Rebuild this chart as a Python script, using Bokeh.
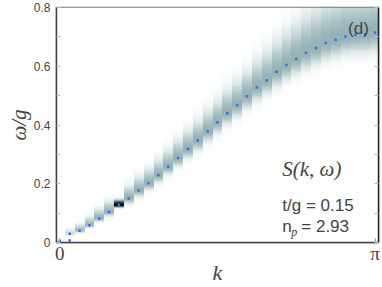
import numpy as np
from bokeh.plotting import figure
from bokeh.models import Range1d, FixedTicker, LinearAxis, LinearColorMapper, Label
from bokeh.embed import file_html
from bokeh.resources import INLINE

# ---------------- data ----------------
n_k = 33                                  # momentum columns, k_j = j*pi/32
k_index = list(range(n_k))
peak_omega = [0.005, 0.030, 0.040, 0.059, 0.082, 0.104, 0.128, 0.150, 0.177,
              0.202, 0.229, 0.258, 0.288, 0.318, 0.347, 0.379, 0.409, 0.440,
              0.468, 0.498, 0.528, 0.552, 0.581, 0.604, 0.625, 0.646, 0.662,
              0.679, 0.690, 0.701, 0.707, 0.709, 0.715]
extra_dot_index = [1]
extra_dot_omega = [0.007]
sigma_below = [0.004, 0.005, 0.005, 0.006, 0.008, 0.010, 0.006, 0.013, 0.015,
               0.016, 0.018, 0.019, 0.021, 0.022, 0.024, 0.025, 0.026, 0.027,
               0.029, 0.030, 0.032, 0.033, 0.035, 0.036, 0.038, 0.039, 0.040,
               0.041, 0.042, 0.043, 0.044, 0.045, 0.045]
sigma_above = [0.008, 0.012, 0.016, 0.020, 0.023, 0.026, 0.012, 0.030, 0.033,
               0.035, 0.038, 0.040, 0.043, 0.045, 0.048, 0.050, 0.052, 0.055,
               0.058, 0.060, 0.065, 0.070, 0.075, 0.080, 0.085, 0.090, 0.095,
               0.100, 0.100, 0.100, 0.100, 0.100, 0.100]
amplitude = [0.10, 0.25, 0.40, 0.42, 0.44, 0.45, 1.00, 0.45, 0.45, 0.45, 0.45,
             0.45, 0.45, 0.45, 0.45, 0.45, 0.45, 0.45, 0.45, 0.45, 0.45, 0.45,
             0.45, 0.45, 0.45, 0.45, 0.45, 0.45, 0.45, 0.45, 0.45, 0.45, 0.45]
y_major = [0, 0.2, 0.4, 0.6, 0.8]
y_minor = [0.1, 0.3, 0.5, 0.7]
x_major = [0, np.pi]
x_labels = {0: "0", np.pi: "π"}

# ---------------- spectral image ----------------
n_w = 400
w_grid = (np.arange(n_w) + 0.5) * 0.8 / n_w
img = np.zeros((n_w, n_k))
for j in range(n_k):
    c = peak_omega[j]
    sig = np.where(w_grid < c, sigma_below[j], sigma_above[j])
    img[:, j] = amplitude[j] * np.exp(-0.5 * ((w_grid - c) / sig) ** 2)

stops = [(0.0, (255, 255, 255)), (0.06, (249, 251, 251)), (0.2, (220, 231, 232)),
         (0.45, (150, 178, 182)), (0.7, (80, 104, 108)), (0.85, (36, 48, 50)),
         (1.0, (0, 0, 0))]
palette = []
for i in range(256):
    t = i / 255
    for (t0, c0), (t1, c1) in zip(stops[:-1], stops[1:]):
        if t0 <= t <= t1:
            f = (t - t0) / (t1 - t0)
            rgb = [int(round(a + (b - a) * f)) for a, b in zip(c0, c1)]
            palette.append("#%02x%02x%02x" % tuple(rgb))
            break
mapper = LinearColorMapper(palette=palette, low=0, high=1)

# ---------------- figure ----------------
p = figure(width=380, height=287, x_range=Range1d(-0.033, 3.176),
           y_range=Range1d(0, 0.8), output_backend="svg", toolbar_location=None,
           min_border_left=56, min_border_right=2, min_border_top=7,
           min_border_bottom=43)
p.grid.visible = False
p.outline_line_color = "#777777"
p.outline_line_width = 1.5

dk = np.pi / 32
p.image(image=[img], x=-dk / 2, y=0, dw=n_k * dk, dh=0.8, color_mapper=mapper)

dot_k = [j * dk for j in k_index] + [j * dk for j in extra_dot_index]
dot_w = peak_omega + extra_dot_omega
p.scatter(x=dot_k, y=dot_w, marker="square", size=2.5, fill_color="#2f6ff0",
          line_color=None)

xa = p.xaxis[0]
xa.ticker = FixedTicker(ticks=x_major)
xa.major_label_overrides = x_labels
xa.axis_label = "k"
xa.axis_label_text_font = "Liberation Serif"
xa.axis_label_text_font_style = "italic"
xa.axis_label_text_font_size = "22px"
xa.axis_label_standoff = -7
xa.major_label_text_font = "Liberation Serif"
xa.major_label_text_font_size = "19px"
xa.major_label_standoff = 0
xa.major_tick_in = 4
xa.major_tick_out = 0
xa.minor_tick_in = 0
xa.minor_tick_out = 0
xa.axis_line_color = "#444444"
xa.axis_line_width = 1.5
xa.major_tick_line_color = "#999999"

ya = p.yaxis[0]
ya.ticker = FixedTicker(ticks=y_major, minor_ticks=y_minor)
ya.major_label_overrides = {0: "0"}
ya.axis_label = "ω/g"
ya.axis_label_text_font = "Liberation Serif"
ya.axis_label_text_font_style = "italic"
ya.axis_label_text_font_size = "21px"
ya.axis_label_standoff = 0
ya.major_label_text_font = "Liberation Sans"
ya.major_label_text_font_size = "12px"
ya.major_label_standoff = 6
ya.major_tick_in = 4
ya.major_tick_out = 0
ya.minor_tick_in = 4
ya.minor_tick_out = 0
ya.axis_line_color = "#444444"
ya.axis_line_width = 1.5
ya.major_tick_line_color = "#bbbbbb"
ya.minor_tick_line_color = "#bbbbbb"

ra = LinearAxis(ticker=FixedTicker(ticks=y_major, minor_ticks=y_minor),
                major_label_overrides={t: "" for t in y_major},
                major_label_standoff=0,
                major_tick_in=4, major_tick_out=0, minor_tick_in=4, minor_tick_out=0,
                axis_line_color="#222222", axis_line_width=1.5,
                major_tick_line_color="#bbbbbb", minor_tick_line_color="#bbbbbb")
p.add_layout(ra, "right")

sans = "Liberation Sans"
p.add_layout(Label(x=3.08, y=0.728, text="(d)", text_align="right",
                   text_baseline="middle", text_font=sans, text_font_size="17px"))
p.add_layout(Label(x=2.217, y=0.25, text="S(k, ω)", text_align="left",
                   text_baseline="middle", text_font="Liberation Serif",
                   text_font_style="italic", text_font_size="21px"))
p.add_layout(Label(x=2.217, y=0.125, text="t/g = 0.15", text_align="left",
                   text_baseline="middle", text_font=sans, text_font_size="17px"))
p.add_layout(Label(x=2.217, y=0.053, text="n", text_align="left",
                   text_baseline="middle", text_font=sans, text_font_size="17px"))
p.add_layout(Label(x=2.217, y=0.053, x_offset=9, y_offset=-5, text="p",
                   text_align="left", text_baseline="middle",
                   text_font="Liberation Serif", text_font_style="italic",
                   text_font_size="12px"))
p.add_layout(Label(x=2.217, y=0.053, x_offset=19, text="= 2.93", text_align="left",
                   text_baseline="middle", text_font=sans, text_font_size="17px"))

open("out.html", "w").write(file_html(p, INLINE))
